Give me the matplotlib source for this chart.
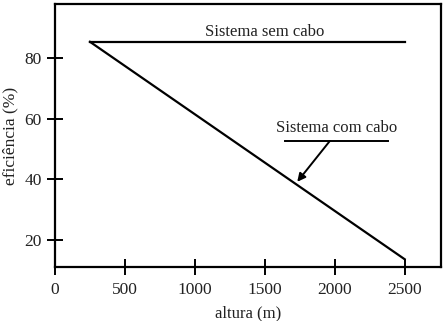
import matplotlib.pyplot as plt

# dados
altura_sem_cabo = [250, 2500]
eficiencia_sem_cabo = [85.5, 85.5]

altura_com_cabo = [250, 2500]
eficiencia_com_cabo = [85.5, 13.6]

xticks = [0, 500, 1000, 1500, 2000, 2500]
yticks = [20, 40, 60, 80]

plt.rcParams['font.family'] = ['Liberation Serif', 'DejaVu Serif']

fig = plt.figure(figsize=(4.48, 3.21), dpi=100)
ax = fig.add_axes([0.1228, 0.168, 0.8616, 0.8195])

ax.plot(altura_sem_cabo, eficiencia_sem_cabo, color='black', lw=1.6)
ax.plot(altura_com_cabo, eficiencia_com_cabo, color='black', lw=1.6)

cor_texto = '#222222'

# rótulo da linha de cima
ax.text(1500, 88.7, "Sistema sem cabo", ha='center', va='center', fontsize=12, color=cor_texto)

# rótulo da linha diagonal com a seta
ax.text(2014, 56.9, "Sistema com cabo", ha='center', va='center', fontsize=12, color=cor_texto)
ax.plot([1641, 2380], [52.7, 52.7], color='black', lw=1.4)
ax.annotate("", xy=(1732, 39.2), xytext=(1965, 52.7),
            arrowprops=dict(arrowstyle='-|>', color='black', lw=1.4,
                            mutation_scale=12, shrinkA=0, shrinkB=0))

ax.set_xlim(40, 2760)
ax.set_ylim(11, 98)
ax.set_xticks(xticks)
ax.set_yticks(yticks)
ax.tick_params(direction='inout', length=12, width=1.4, labelsize=12.5,
               colors='black', labelcolor=cor_texto)
ax.tick_params(axis='x', pad=5)

for lado in ax.spines.values():
    lado.set_linewidth(1.6)

ax.set_xlabel("altura (m)", fontsize=12, labelpad=5, color=cor_texto)
ax.set_ylabel("eficiência (%)", fontsize=12.5, labelpad=4, color=cor_texto)

plt.savefig("out.png", dpi=100)
